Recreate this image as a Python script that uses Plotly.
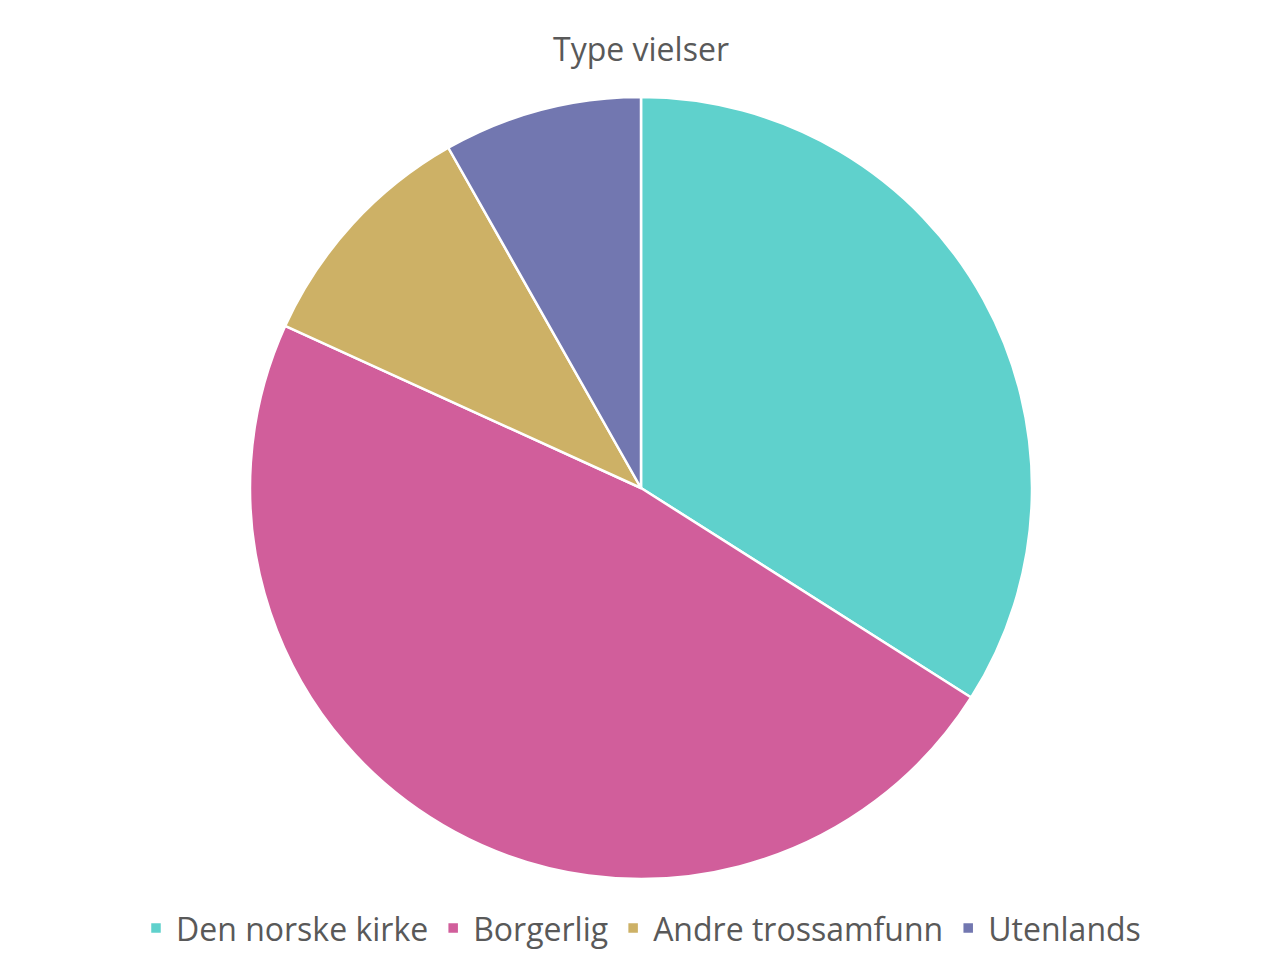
import plotly.graph_objects as go

labels = ["Den norske kirke", "Borgerlig", "Andre trossamfunn", "Utenlands"]
values = [34.0, 47.8, 10.0, 8.2]
colors = ["#5fd1cc", "#d15e9b", "#cdb166", "#7277b0"]

fig = go.Figure(go.Pie(
    labels=labels, values=values, sort=False, direction="clockwise", rotation=0,
    marker=dict(colors=colors, line=dict(color="white", width=2.5)),
    textinfo="none", hoverinfo="label+value",
))

fig.update_layout(
    width=1266, height=966,
    paper_bgcolor="white",
    font=dict(family="Open Sans", color="#595959"),
    title=dict(text="Type vielser", x=0.5, xanchor="center", y=1 - 42 / 966,
               yanchor="middle", font=dict(size=32, color="#595959")),
    margin=dict(t=89, b=95, l=0, r=0),
    legend=dict(orientation="h", x=0.5, xanchor="center", y=-0.063, yanchor="middle",
                font=dict(size=32, color="#595959"), itemwidth=30),
)

fig.write_html("out.html")
